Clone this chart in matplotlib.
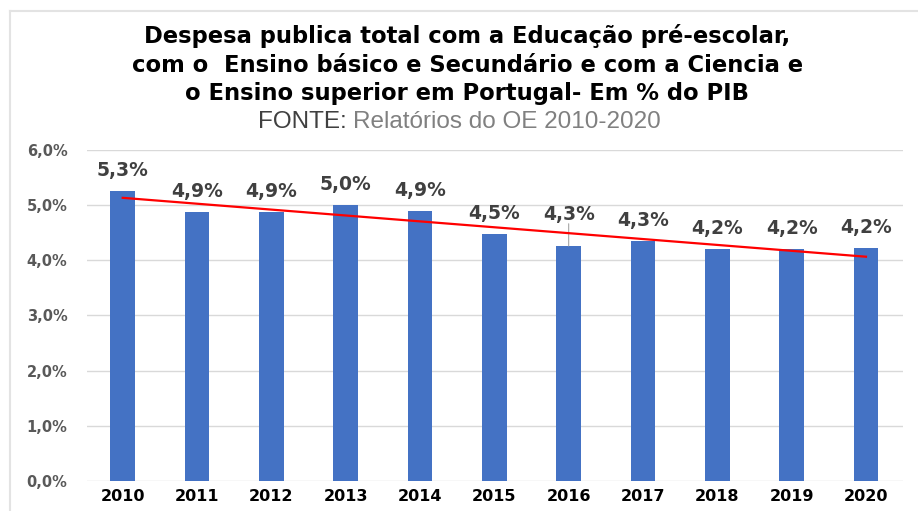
import matplotlib
matplotlib.use("Agg")
import matplotlib.pyplot as plt
import numpy as np

years = ["2010", "2011", "2012", "2013", "2014", "2015",
         "2016", "2017", "2018", "2019", "2020"]
despesa = [5.25, 4.87, 4.87, 5.00, 4.89, 4.47, 4.26, 4.35, 4.21, 4.20, 4.22]
rotulos = ["5,3%", "4,9%", "4,9%", "5,0%", "4,9%", "4,5%",
           "4,3%", "4,3%", "4,2%", "4,2%", "4,2%"]
yticks = [0, 1, 2, 3, 4, 5, 6]
ytick_labels = ["0,0%", "1,0%", "2,0%", "3,0%", "4,0%", "5,0%", "6,0%"]

fig = plt.figure(figsize=(9.18, 5.11), dpi=100)
ax = fig.add_axes([0.0948, 0.0587, 0.889, 0.6478])

x = np.arange(len(years))
ax.bar(x, despesa, width=0.33, color='#4472c4', zorder=2)

# linha de tendencia (linear)
coef = np.polyfit(x, despesa, 1)
ax.plot(x, np.polyval(coef, x), color='#ff0000', lw=1.6, zorder=4)

for i, (v, lab) in enumerate(zip(despesa, rotulos)):
    off = 8
    if years[i] == "2016":
        off = 16
        ax.annotate("", xy=(i, v), xytext=(0, off), textcoords='offset points',
                    arrowprops=dict(arrowstyle='-', color='#a6a6a6', lw=0.8,
                                    shrinkA=0, shrinkB=0), zorder=3)
    ax.annotate(lab, xy=(i, v), xytext=(0, off), textcoords='offset points',
                ha='center', va='bottom', fontsize=13.5, fontweight='bold',
                color='#404040', family='DejaVu Sans', zorder=5)

ax.set_xlim(-0.48, 10.5)
ax.set_ylim(0, 6)
ax.set_xticks(x)
ax.set_xticklabels(years, fontsize=11.5, fontweight='bold', color='black')
ax.set_yticks(yticks)
ax.set_yticklabels(ytick_labels, fontsize=10.5, fontweight='bold', color='#595959')
ax.tick_params(axis='both', length=0)
ax.tick_params(axis='y', pad=14)
ax.tick_params(axis='x', pad=6)
ax.grid(axis='y', color='#d9d9d9', lw=1, zorder=0)
for s in ax.spines.values():
    s.set_visible(False)

# titulo
fig.text(0.509, 0.873,
         "Despesa publica total com a Educação pré-escolar,\n"
         "com o  Ensino básico e Secundário e com a Ciencia e\n"
         "o Ensino superior em Portugal- Em % do PIB",
         ha='center', va='center', fontsize=16.3, fontweight='bold',
         color='black', family='DejaVu Sans', linespacing=1.3)
t1 = fig.text(0.281, 0.762, "FONTE: ", ha='left', va='center', fontsize=17.5,
              color='#404040', family='Liberation Sans')
ax.annotate("Relatórios do OE 2010-2020", xy=(1, 0), xycoords=t1,
            ha='left', va='bottom', fontsize=17.5, color='#808080',
            family='Liberation Sans', annotation_clip=False)

# moldura
fig.add_artist(plt.Line2D([10 / 918, 10 / 918], [0, 1 - 11 / 511],
                          transform=fig.transFigure, color='#e3e3e3', lw=1.5))
fig.add_artist(plt.Line2D([10 / 918, 1], [1 - 11 / 511, 1 - 11 / 511],
                          transform=fig.transFigure, color='#e3e3e3', lw=1.5))

fig.savefig('out.png', dpi=100)
